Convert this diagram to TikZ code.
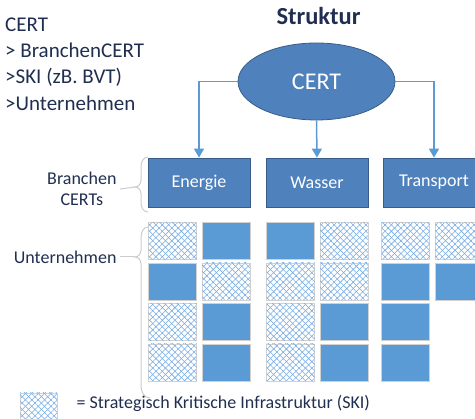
\documentclass[tikz,border=0pt]{standalone}
\usepackage{fontspec}
\setmainfont{Carlito}
\usetikzlibrary{shapes.geometric,arrows.meta,patterns.meta}
\definecolor{certblue}{RGB}{79,129,189}
\definecolor{certline}{RGB}{56,93,138}
\definecolor{firmblue}{RGB}{91,155,213}
\definecolor{skiblue}{RGB}{115,170,228}
\definecolor{textblue}{RGB}{32,46,80}
\tikzset{
  cert/.style={ellipse,fill=certblue,draw=certline,line width=0.8pt,minimum width=157pt,minimum height=77pt,inner sep=0pt,text=white,font=\fontsize{24}{28}\selectfont},
  branch/.style={rectangle,fill=certblue,draw=certline,line width=0.8pt,minimum width=102pt,minimum height=49pt,text=white,font=\fontsize{18}{21}\selectfont},
  arrow/.style={draw=firmblue,line width=1.5pt,-{Triangle[width=10pt,length=9pt]}},
  firmbox/.style={rectangle,fill=firmblue,draw=black!18,minimum width=48pt,minimum height=37pt},
  skibox/.style={rectangle,draw=black!18,minimum width=48pt,minimum height=37pt,
    preaction={fill=white},
    pattern={Lines[angle=45,distance=4.5pt,line width=0.55pt]},pattern color=skiblue,
    postaction={pattern={Lines[angle=-45,distance=4.5pt,line width=0.55pt]},pattern color=skiblue}},
  brace/.style={draw=black!20,line width=1pt},
  label/.style={text=textblue,font=\fontsize{18}{21.5}\selectfont}
}
\begin{document}
\begin{tikzpicture}[x=1pt,y=-1pt]
\useasboundingbox (0,0) rectangle (475,419);
\foreach \t [count=\i] in {CERT,> BranchenCERT,>SKI (zB. BVT),>Unternehmen}
{
    \node[label,font=\fontsize{21}{25}\selectfont,anchor=base west,inner sep=0pt] (intro\i) at (5,5.3+26.2*\i) {\t};
}
\node[label,font=\bfseries\fontsize{24.5}{28}\selectfont,anchor=base] (title) at (318.5,25) {Struktur};

\node[cert] (cert) at (316.5,81.5) {CERT};
\node[branch] (energie) at (199,182.5) {Energie};
\node[branch] (wasser) at (317,182.5) {Wasser};
\node[branch] (transport) at (434,182.5) {Transport};
\draw[arrow] (cert.west) -| (energie.north);
\draw[arrow] (cert.south) -- (wasser.north);
\draw[arrow] (cert.east) -| (transport.north);

\foreach \x/\kinds [count=\c] in {172.5/{skibox,firmbox,skibox,skibox},226/{firmbox,skibox,firmbox,firmbox},
    290.5/{firmbox,skibox,skibox,skibox},344/{skibox,skibox,firmbox,firmbox},
    405.5/{skibox,firmbox,firmbox,firmbox},459/{skibox,firmbox}}
{
    \foreach \k [count=\r] in \kinds
        \node[\k] (firm\c-\r) at (\x,200.5+40.5*\r) {};
}

\coordinate (tipA) at (135,187);
\coordinate (tipB) at (135,257);
\draw[brace] (148,157) to[out=180,in=90] (141,167) -- (141,180) to[out=-90,in=0] (tipA)
    to[out=0,in=90] (141,194) -- (141,203) to[out=-90,in=180] (148,212);
\draw[brace] (148,227) to[out=180,in=90] (141,238) -- (141,250) to[out=-90,in=0] (tipB)
    to[out=0,in=90] (141,264) -- (141,386) to[out=-90,in=180] (150,398);
\node[label,align=center,anchor=east] (branchen) at (120,189) {Branchen\\CERTs};
\node[label,anchor=east] (unternehmen) at (120,257) {Unternehmen};
\draw[brace] (branchen.east) -- (tipA);
\draw[brace] (unternehmen.east) -- (tipB);

\node[skibox,minimum width=37pt,minimum height=30pt] (key) at (38.5,408) {};
\node[label,anchor=base west] (keytext) at (73,408.3) {= Strategisch Kritische Infrastruktur (SKI)};
\end{tikzpicture}
\end{document}
